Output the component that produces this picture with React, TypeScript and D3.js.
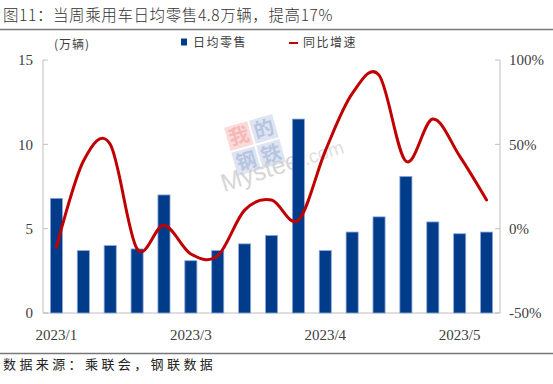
import React from "react";
import * as d3 from "d3";

const categories = ["W1","W2","W3","W4","W5","W6","W7","W8","W9","W10","W11","W12","W13","W14","W15","W16","W17"];
const dailyRetail = [6.8, 3.7, 4.0, 3.8, 7.0, 3.1, 3.7, 4.1, 4.6, 11.5, 3.7, 4.8, 5.7, 8.1, 5.4, 4.7, 4.8];
const yoyGrowth = [-11, 40, 50, -12, 2, -15, -16, 11, 17, 5, 46, 80, 91, 40, 65, 43, 17];
const xTickIndex = [0, 5, 10, 15];
const xTickLabels = ["2023/1", "2023/3", "2023/4", "2023/5"];
const leftTicks = [0, 5, 10, 15];
const rightTicks = [-50, 0, 50, 100];

const W = 553, H = 384;
const L = 43, R = 500, T = 60, B = 313;
const serif = "'Liberation Serif', 'Times New Roman', serif";
const cjk = "'Noto Sans CJK SC', sans-serif";

export default function App() {
  const x = d3.scaleBand<number>().domain(d3.range(categories.length)).range([L, R]).paddingInner(0.55).paddingOuter(0.275);
  const yL = d3.scaleLinear().domain([0, 15]).range([B, T]);
  const yR = d3.scaleLinear().domain([-50, 100]).range([B, T]);
  const cx = (i: number) => (x(i) as number) + x.bandwidth() / 2;
  const line = d3.line<number>().x((_, i) => cx(i)).y((d) => yR(d)).curve(d3.curveCardinal.tension(0));
  const axisColor = "#bfbfbf";
  const textColor = "#404040";

  return (
    <svg width={W} height={H} style={{ position: "absolute", left: 0, top: 0, background: "#fff" }}>
      {/* title */}
      <text x={3} y={21} fontFamily={cjk} fontSize={15.5} fontWeight={300} fill="#333" letterSpacing={0.6}>图11：当周乘用车日均零售4.8万辆，提高17%</text>
      <line x1={0} x2={W} y1={29.5} y2={29.5} stroke="#777" strokeWidth={1.5} />

      {/* unit */}
      <text x={72} y={49} textAnchor="middle" fontFamily={cjk} fontSize={12} fill={textColor} letterSpacing={1}>(万辆)</text>

      {/* legend */}
      <rect x={181} y={38.5} width={6} height={7} fill="#003C8A" />
      <text x={193} y={46.5} fontFamily={cjk} fontSize={12} fill={textColor} letterSpacing={1.5}>日均零售</text>
      <line x1={289} x2={298} y1={43} y2={43} stroke="#C00000" strokeWidth={2} />
      <text x={303} y={46.5} fontFamily={cjk} fontSize={12} fill={textColor} letterSpacing={1.5}>同比增速</text>

      {/* watermark */}
      <g opacity={0.75} transform="translate(255,145) rotate(-16)">
        <rect x={-25} y={-25} width={24} height={24} fill="#f9d0d0" />
        <rect x={1} y={-25} width={24} height={24} fill="#d3dcee" />
        <rect x={-25} y={1} width={24} height={24} fill="#d3dcee" />
        <rect x={1} y={1} width={24} height={24} fill="#d3dcee" />
        <text x={-13} y={-6} textAnchor="middle" fontFamily={cjk} fontSize={20} fontWeight={700} fill="#f3a0a0">我</text>
        <text x={13} y={-6} textAnchor="middle" fontFamily={cjk} fontSize={20} fontWeight={700} fill="#9fb2d8">的</text>
        <text x={-13} y={20} textAnchor="middle" fontFamily={cjk} fontSize={20} fontWeight={700} fill="#9fb2d8">钢</text>
        <text x={13} y={20} textAnchor="middle" fontFamily={cjk} fontSize={20} fontWeight={700} fill="#9fb2d8">铁</text>
      </g>
      <g opacity={0.8} transform="translate(224,192) rotate(-18)">
        <text x={0} y={0} fontFamily="'Liberation Sans', sans-serif" fontSize={25} fill="#cccccc">Mysteel</text>
        <text x={86} y={0} fontFamily="'Liberation Sans', sans-serif" fontSize={19} fill="#d8d8d8">.com</text>
      </g>

      {/* axes */}
      <line x1={L} x2={L} y1={T} y2={B} stroke={axisColor} />
      <line x1={R} x2={R} y1={T} y2={B} stroke={axisColor} />
      <line x1={L} x2={R} y1={B} y2={B} stroke={axisColor} />
      {leftTicks.map((t) => (
        <g key={"l" + t}>
          <line x1={L} x2={L + 5} y1={yL(t)} y2={yL(t)} stroke={axisColor} />
          <text x={33} y={yL(t)} dy="0.35em" textAnchor="end" fontFamily={serif} fontSize={15} fill={textColor}>{t}</text>
        </g>
      ))}
      {rightTicks.map((t) => (
        <g key={"r" + t}>
          <line x1={R - 5} x2={R} y1={yR(t)} y2={yR(t)} stroke={axisColor} />
          <text x={509} y={yR(t)} dy="0.35em" textAnchor="start" fontFamily={serif} fontSize={15} fill={textColor}>{t}%</text>
        </g>
      ))}
      {xTickIndex.map((idx, k) => (
        <text key={"x" + idx} x={cx(idx)} y={340} textAnchor="middle" fontFamily={serif} fontSize={15} fill={textColor}>{xTickLabels[k]}</text>
      ))}

      {/* bars */}
      {dailyRetail.map((v, i) => (
        <rect key={"b" + i} x={x(i)} y={yL(v)} width={x.bandwidth()} height={B - yL(v)} fill="#003C8A" stroke="#8FAADC" strokeWidth={0.8} />
      ))}

      {/* line */}
      <path d={line(yoyGrowth) || ""} fill="none" stroke="#C00000" strokeWidth={3} strokeLinejoin="round" strokeLinecap="round" />

      {/* footer */}
      <line x1={0} x2={W} y1={353.5} y2={353.5} stroke="#777" strokeWidth={1.5} />
      <text x={3} y={369} fontFamily={cjk} fontSize={13} fill="#222" letterSpacing={3.4}>数据来源：乘联会，钢联数据</text>
    </svg>
  );
}
